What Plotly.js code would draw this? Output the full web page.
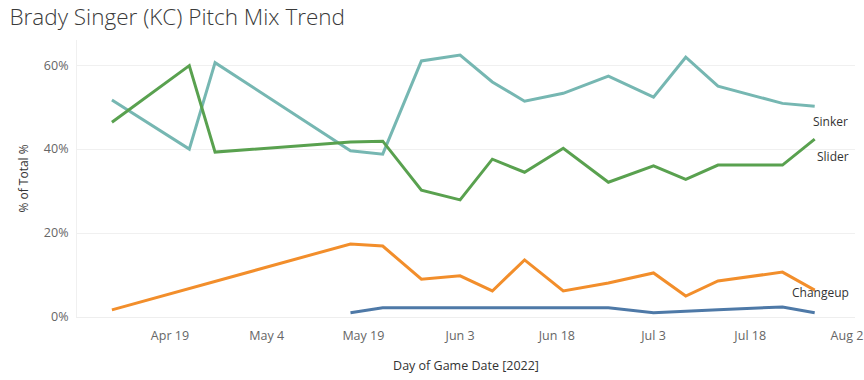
<!DOCTYPE html>
<html>
<head>
<meta charset="utf-8">
<script src="https://cdn.plot.ly/plotly-3.0.1.min.js"></script>
<style>html,body{margin:0;padding:0;background:#fff;}#chart{width:864px;height:380px;}</style>
</head>
<body>
<div id="chart"></div>
<script>
const dates = ['2022-04-10','2022-04-22','2022-04-26','2022-05-17','2022-05-22','2022-05-28','2022-06-03','2022-06-08','2022-06-13','2022-06-19','2022-06-26','2022-07-03','2022-07-08','2022-07-13','2022-07-23','2022-07-28'];
const sinker   = [51.7, 40.0, 60.6, 39.6, 38.8, 61.0, 62.4, 56.0, 51.4, 53.3, 57.4, 52.4, 61.9, 55.0, 50.9, 50.2];
const slider   = [46.4, 59.9, 39.3, 41.7, 41.9, 30.2, 27.9, 37.6, 34.5, 40.2, 32.1, 36.0, 32.8, 36.2, 36.2, 42.4];
const changeup = [1.7, null, null, 17.4, 16.9, 9.0, 9.8, 6.2, 13.6, 6.2, 8.1, 10.5, 5.0, 8.6, 10.7, 6.4];
const cutter   = [null, null, null, 1.0, 2.2, 2.2, 2.2, 2.2, 2.2, 2.2, 2.2, 1.0, 1.3, 1.7, 2.4, 1.0];
const seriesNames = ['Sinker', 'Slider', 'Changeup', 'Cutter'];
const labeled = [true, true, true, false];
const colors = ['#76b7b2', '#59a14f', '#f28e2b', '#4e79a7'];
const yTicks = [0, 20, 40, 60];
const yTickText = ['0%', '20%', '40%', '60%'];
const xTicks = ['2022-04-19','2022-05-04','2022-05-19','2022-06-03','2022-06-18','2022-07-03','2022-07-18','2022-08-02'];
const xTickText = ['Apr 19','May 4','May 19','Jun 3','Jun 18','Jul 3','Jul 18','Aug 2'];

const allSeries = [sinker, slider, changeup, cutter];
const traces = allSeries.map((vals, i) => {
  const xs = [], ys = [];
  vals.forEach((v, j) => { if (v !== null) { xs.push(dates[j]); ys.push(v); } });
  return {x: xs, y: ys, type: 'scatter', mode: 'lines', name: seriesNames[i],
          line: {color: colors[i], width: 3}, hoverinfo: 'x+y+name'};
});

const labelShift = {Sinker: [-4, -15, 'left'], Slider: [0, -17, 'left'], Changeup: [36, -2, 'right']};
const annotations = [];
allSeries.forEach((vals, i) => {
  if (!labeled[i]) return;
  let last = vals.length - 1;
  while (vals[last] === null) last--;
  const s = labelShift[seriesNames[i]];
  annotations.push({x: dates[last], y: vals[last], xref: 'x', yref: 'y', text: seriesNames[i],
    showarrow: false, xanchor: s[2], yanchor: 'middle', xshift: s[0], yshift: s[1],
    font: {family: 'Open Sans, sans-serif', size: 12, color: '#333333'}});
});

const layout = {
  width: 864, height: 380,
  margin: {l: 77, r: 9, t: 40, b: 63},
  paper_bgcolor: '#ffffff', plot_bgcolor: '#ffffff',
  showlegend: false,
  title: {text: 'Brady Singer (KC) Pitch Mix Trend', x: 0.011, xanchor: 'left', y: 0.955, yanchor: 'middle',
          font: {family: 'Open Sans, sans-serif', size: 22.5, color: '#3a3a3a', weight: 300}},
  xaxis: {type: 'date', range: ['2022-04-04 14:00', '2022-08-03 06:00'],
          tickvals: xTicks, ticktext: xTickText, showgrid: false, zeroline: false,
          showline: true, linecolor: '#eeeeee', linewidth: 1, ticks: '', ticklabelstandoff: 7,
          tickfont: {family: 'Open Sans, sans-serif', size: 12.5, color: '#666666'},
          title: {text: 'Day of Game Date [2022]', standoff: 18,
                  font: {family: 'Open Sans, sans-serif', size: 12.5, color: '#333333'}}},
  yaxis: {range: [0, 66], tickvals: yTicks, ticktext: yTickText, showgrid: true, gridcolor: '#f0f0f0',
          zeroline: false, showline: true, linecolor: '#f0f0f0', ticks: '', ticklabelstandoff: 5,
          tickfont: {family: 'Open Sans, sans-serif', size: 12.5, color: '#666666'},
          title: {text: '% of Total %', standoff: 12,
                  font: {family: 'Open Sans, sans-serif', size: 12, color: '#333333'}}},
  annotations: annotations
};

Plotly.newPlot('chart', traces, layout, {displayModeBar: false, staticPlot: true});
</script>
</body>
</html>
